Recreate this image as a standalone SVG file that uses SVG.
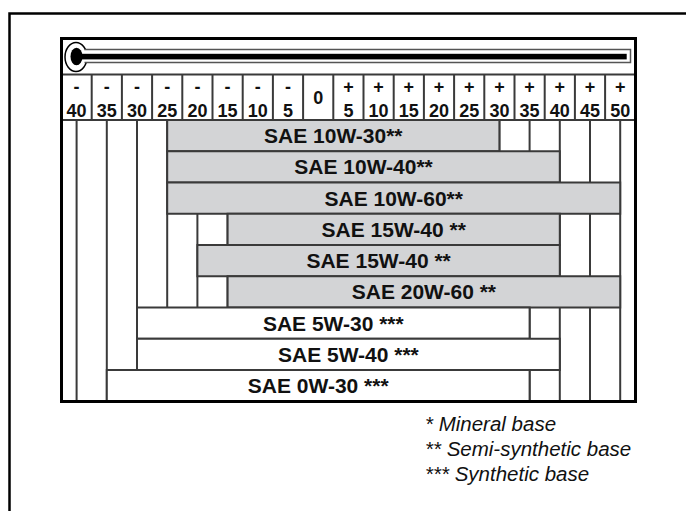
<svg xmlns="http://www.w3.org/2000/svg" width="686" height="511" viewBox="0 0 686 511">
<style>
.grid{stroke:#3a3a3a;stroke-width:2;fill:none}
.gbar{fill:#d3d4d6;stroke:#3a3a3a;stroke-width:2}
.wbar{fill:#ffffff;stroke:#3a3a3a;stroke-width:2}
.lbl{font-family:"Liberation Sans",Arial,sans-serif;font-weight:bold;font-size:21px;fill:#111;text-anchor:middle}
.hd{font-family:"Liberation Sans",Arial,sans-serif;font-weight:bold;font-size:18px;fill:#111;text-anchor:middle}
.leg{font-family:"Liberation Sans",Arial,sans-serif;font-style:italic;font-size:20.5px;fill:#111}
</style>
<rect width="686" height="511" fill="#ffffff"/>
<path d="M9.5 511 V13.5 H686" fill="none" stroke="#000" stroke-width="2.5"/>
<g id="table">
<rect x="61.5" y="38.5" width="574" height="363" fill="#fff"/>
<g id="thermometer">
<ellipse cx="76" cy="57" rx="11" ry="14.5" fill="#fff" stroke="#000" stroke-width="1.5"/>
<rect x="84.5" y="49.5" width="546" height="13" fill="#fff"/>
<path d="M84.5 49.5 H630.5 V62.5 H84.5" fill="none" stroke="#555" stroke-width="1.5"/>
<rect x="76" y="53.8" width="550.7" height="5.6" fill="#000"/>
<ellipse cx="76.5" cy="56.5" rx="6" ry="8.7" fill="#000"/>
</g>
<g id="header" class="grid">
<line x1="61.5" y1="74.5" x2="635.5" y2="74.5"/>
<line x1="61.5" y1="120" x2="635.5" y2="120"/>
<path d="M91.7 74.5V120M121.9 74.5V120M152.1 74.5V120M182.3 74.5V120M212.5 74.5V120M242.7 74.5V120M272.9 74.5V120M303.1 74.5V120M333.3 74.5V120M363.5 74.5V120M393.7 74.5V120M423.9 74.5V120M454.1 74.5V120M484.3 74.5V120M514.5 74.5V120M544.7 74.5V120M574.9 74.5V120M605.1 74.5V120"/>
</g>
<g id="header-labels">
<text class="hd" x="76.6" y="92.5">-</text><text class="hd" x="76.6" y="116.5">40</text>
<text class="hd" x="106.8" y="92.5">-</text><text class="hd" x="106.8" y="116.5">35</text>
<text class="hd" x="137" y="92.5">-</text><text class="hd" x="137" y="116.5">30</text>
<text class="hd" x="167.2" y="92.5">-</text><text class="hd" x="167.2" y="116.5">25</text>
<text class="hd" x="197.4" y="92.5">-</text><text class="hd" x="197.4" y="116.5">20</text>
<text class="hd" x="227.6" y="92.5">-</text><text class="hd" x="227.6" y="116.5">15</text>
<text class="hd" x="257.8" y="92.5">-</text><text class="hd" x="257.8" y="116.5">10</text>
<text class="hd" x="288" y="92.5">-</text><text class="hd" x="288" y="116.5">5</text>
<text class="hd" x="318.2" y="104">0</text>
<text class="hd" x="348.4" y="92.5">+</text><text class="hd" x="348.4" y="116.5">5</text>
<text class="hd" x="378.6" y="92.5">+</text><text class="hd" x="378.6" y="116.5">10</text>
<text class="hd" x="408.8" y="92.5">+</text><text class="hd" x="408.8" y="116.5">15</text>
<text class="hd" x="439" y="92.5">+</text><text class="hd" x="439" y="116.5">20</text>
<text class="hd" x="469.2" y="92.5">+</text><text class="hd" x="469.2" y="116.5">25</text>
<text class="hd" x="499.4" y="92.5">+</text><text class="hd" x="499.4" y="116.5">30</text>
<text class="hd" x="529.6" y="92.5">+</text><text class="hd" x="529.6" y="116.5">35</text>
<text class="hd" x="559.8" y="92.5">+</text><text class="hd" x="559.8" y="116.5">40</text>
<text class="hd" x="590" y="92.5">+</text><text class="hd" x="590" y="116.5">45</text>
<text class="hd" x="620.2" y="92.5">+</text><text class="hd" x="620.2" y="116.5">50</text>
</g>
<g id="columns" class="grid">
<path d="M76.6 120V401M106.8 120V401M137 120V401M167.2 120V401M197.4 120V401M227.6 120V401M257.8 120V401M288 120V401M318.2 120V401M348.4 120V401M378.6 120V401M408.8 120V401M439 120V401M469.2 120V401M499.4 120V401M529.6 120V401M559.8 120V401M590 120V401M620.2 120V401"/>
</g>
<g id="sae-10w-30"><rect class="gbar" x="167.2" y="120" width="332.2" height="31.25"/><text class="lbl" x="333.3" y="143">SAE 10W-30**</text></g>
<g id="sae-10w-40"><rect class="gbar" x="167.2" y="151.25" width="392.6" height="31.25"/><text class="lbl" x="363.5" y="174.3">SAE 10W-40**</text></g>
<g id="sae-10w-60"><rect class="gbar" x="167.2" y="182.5" width="453" height="31.25"/><text class="lbl" x="393.7" y="205.5">SAE 10W-60**</text></g>
<g id="sae-15w-40-a"><rect class="gbar" x="227.6" y="213.75" width="332.2" height="31.25"/><text class="lbl" x="393.7" y="236.8">SAE 15W-40 **</text></g>
<g id="sae-15w-40-b"><rect class="gbar" x="197.4" y="245" width="362.4" height="31.25"/><text class="lbl" x="378.6" y="268">SAE 15W-40 **</text></g>
<g id="sae-20w-60"><rect class="gbar" x="227.6" y="276.25" width="392.6" height="31.25"/><text class="lbl" x="423.9" y="299.3">SAE 20W-60 **</text></g>
<g id="sae-5w-30"><rect class="wbar" x="137" y="307.5" width="392.6" height="31.25"/><text class="lbl" x="333.3" y="330.5">SAE 5W-30 ***</text></g>
<g id="sae-5w-40"><rect class="wbar" x="137" y="338.75" width="422.8" height="31.25"/><text class="lbl" x="348.4" y="361.8">SAE 5W-40 ***</text></g>
<g id="sae-0w-30"><rect class="wbar" x="106.8" y="370" width="422.8" height="31.25"/><text class="lbl" x="318.2" y="393">SAE 0W-30 ***</text></g>
<rect x="61.5" y="38.5" width="574" height="363" fill="none" stroke="#000" stroke-width="3"/>
</g>
<g id="legend">
<text class="leg" x="425" y="431">* Mineral base</text>
<text class="leg" x="425" y="455.5">** Semi-synthetic base</text>
<text class="leg" x="425" y="480.5">*** Synthetic base</text>
</g>
</svg>
